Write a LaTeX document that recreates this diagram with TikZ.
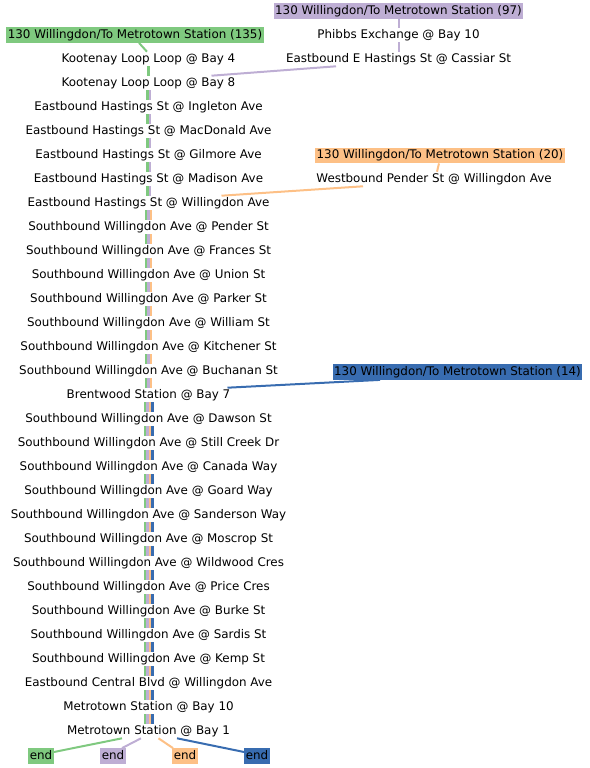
\documentclass[tikz,border=0pt]{standalone}
\usepackage{fontspec}
\setmainfont{DejaVu Sans}
\usepackage{tikz}
\usetikzlibrary{positioning}
\definecolor{rtgreen}{HTML}{7FC97F}
\definecolor{rtpurple}{HTML}{BEAED4}
\definecolor{rtorange}{HTML}{FDC086}
\definecolor{rtblue}{HTML}{386CB0}
\newcommand{\stopfont}{\fontsize{11.9}{14}\selectfont}

\begin{document}
\begin{tikzpicture}[x=1pt, y=-1pt,
    busstop/.style={inner xsep=1.5pt, inner ysep=1.2pt, text height=9pt,
        text depth=2.8pt, font=\stopfont},
    routelbl/.style={busstop, inner ysep=1.8pt, fill=#1},
    endlbl/.style={routelbl=#1},
    seg/.style={line width=2pt, draw=#1},
    bundle/.style={line width=2.5pt, draw=#1}
]
    \useasboundingbox (0,0) rectangle (589,768);

    % route headers
    \node[routelbl=rtgreen] (hdg) at (135,35) {130 Willingdon/To Metrotown Station (135)};
    \node[routelbl=rtpurple] (hdp) at (398.5,11) {130 Willingdon/To Metrotown Station (97)};
    \node[routelbl=rtorange] (hdo) at (440,155.5) {130 Willingdon/To Metrotown Station (20)};
    \node[routelbl=rtblue] (hdb) at (457.5,372) {130 Willingdon/To Metrotown Station (14)};

    % side branches
    \node[busstop] (phibbs) at (398.5,35) {Phibbs Exchange @ Bay 10};
    \node[busstop] (cassiar) at (398.5,59) {Eastbound E Hastings St @ Cassiar St};
    \node[busstop] (pender) at (434,179) {Westbound Pender St @ Willingdon Ave};

    % main line
    \node[busstop] (s1) at (148.5,59) {Kootenay Loop Loop @ Bay 4};
    \node[busstop] (s2) at (148.5,83) {Kootenay Loop Loop @ Bay 8};
    \node[busstop] (s3) at (148.5,107) {Eastbound Hastings St @ Ingleton Ave};
    \node[busstop] (s4) at (148.5,131) {Eastbound Hastings St @ MacDonald Ave};
    \node[busstop] (s5) at (148.5,155) {Eastbound Hastings St @ Gilmore Ave};
    \node[busstop] (s6) at (148.5,179) {Eastbound Hastings St @ Madison Ave};
    \node[busstop] (s7) at (148.5,203) {Eastbound Hastings St @ Willingdon Ave};
    \node[busstop] (s8) at (148.5,227) {Southbound Willingdon Ave @ Pender St};
    \node[busstop] (s9) at (148.5,251) {Southbound Willingdon Ave @ Frances St};
    \node[busstop] (s10) at (148.5,275) {Southbound Willingdon Ave @ Union St};
    \node[busstop] (s11) at (148.5,299) {Southbound Willingdon Ave @ Parker St};
    \node[busstop] (s12) at (148.5,323) {Southbound Willingdon Ave @ William St};
    \node[busstop] (s13) at (148.5,347) {Southbound Willingdon Ave @ Kitchener St};
    \node[busstop] (s14) at (148.5,371) {Southbound Willingdon Ave @ Buchanan St};
    \node[busstop] (s15) at (148.5,395) {Brentwood Station @ Bay 7};
    \node[busstop] (s16) at (148.5,419) {Southbound Willingdon Ave @ Dawson St};
    \node[busstop] (s17) at (148.5,443) {Southbound Willingdon Ave @ Still Creek Dr};
    \node[busstop] (s18) at (148.5,467) {Southbound Willingdon Ave @ Canada Way};
    \node[busstop] (s19) at (148.5,491) {Southbound Willingdon Ave @ Goard Way};
    \node[busstop] (s20) at (148.5,515) {Southbound Willingdon Ave @ Sanderson Way};
    \node[busstop] (s21) at (148.5,539) {Southbound Willingdon Ave @ Moscrop St};
    \node[busstop] (s22) at (148.5,563) {Southbound Willingdon Ave @ Wildwood Cres};
    \node[busstop] (s23) at (148.5,587) {Southbound Willingdon Ave @ Price Cres};
    \node[busstop] (s24) at (148.5,611) {Southbound Willingdon Ave @ Burke St};
    \node[busstop] (s25) at (148.5,635) {Southbound Willingdon Ave @ Sardis St};
    \node[busstop] (s26) at (148.5,659) {Southbound Willingdon Ave @ Kemp St};
    \node[busstop] (s27) at (148.5,683) {Eastbound Central Blvd @ Willingdon Ave};
    \node[busstop] (s28) at (148.5,707) {Metrotown Station @ Bay 10};
    \node[busstop] (s29) at (148.5,731) {Metrotown Station @ Bay 1};

    % terminals
    \node[endlbl=rtgreen] (eg) at (41,756) {end};
    \node[endlbl=rtpurple] (ep) at (113,756) {end};
    \node[endlbl=rtorange] (eo) at (185,756) {end};
    \node[endlbl=rtblue] (eb) at (257,756) {end};

    % feeders into the main line
    \draw[seg=rtgreen] ([xshift=4pt]hdg.south) -- ([xshift=-1.5pt]s1.north);
    \draw[seg=rtpurple] (hdp) -- (phibbs);
    \draw[seg=rtpurple] (phibbs) -- (cassiar);
    \draw[seg=rtpurple] ([xshift=-62.5pt]cassiar.south) -- ([xshift=63pt]s2.north);
    \draw[seg=rtorange] ([xshift=-1pt]hdo.south) -- ([xshift=3pt]pender.north);
    \draw[seg=rtorange] ([xshift=-71pt]pender.south) -- ([xshift=73pt]s7.north);
    \draw[seg=rtblue] ([xshift=-77.5pt]hdb.south) -- ([xshift=79pt]s15.north);

    % bundled segments
    \draw[bundle=rtgreen] (s1.south) -- (s2.north);
    \foreach \i [evaluate=\i as \j using int(\i+1)] in {2,...,6} {
        \draw[bundle=rtgreen] ([xshift=-1.25pt]s\i.south) -- ([xshift=-1.25pt]s\j.north);
        \draw[bundle=rtpurple] ([xshift=1.25pt]s\i.south) -- ([xshift=1.25pt]s\j.north);
    }
    \foreach \i [evaluate=\i as \j using int(\i+1)] in {7,...,14} {
        \draw[bundle=rtgreen] ([xshift=-2.5pt]s\i.south) -- ([xshift=-2.5pt]s\j.north);
        \draw[bundle=rtpurple] (s\i.south) -- (s\j.north);
        \draw[bundle=rtorange] ([xshift=2.5pt]s\i.south) -- ([xshift=2.5pt]s\j.north);
    }
    \foreach \i [evaluate=\i as \j using int(\i+1)] in {15,...,28} {
        \draw[bundle=rtgreen] ([xshift=-3.75pt]s\i.south) -- ([xshift=-3.75pt]s\j.north);
        \draw[bundle=rtpurple] ([xshift=-1.25pt]s\i.south) -- ([xshift=-1.25pt]s\j.north);
        \draw[bundle=rtorange] ([xshift=1.25pt]s\i.south) -- ([xshift=1.25pt]s\j.north);
        \draw[bundle=rtblue] ([xshift=3.75pt]s\i.south) -- ([xshift=3.75pt]s\j.north);
    }

    % to the terminals
    \draw[seg=rtgreen] ([xshift=-26.5pt]s29.south) -- ([yshift=4pt]eg.east);
    \draw[seg=rtpurple] ([xshift=-7.5pt]s29.south) -- ([xshift=9pt]ep.north);
    \draw[seg=rtorange] ([xshift=10pt]s29.south) -- ([xshift=-12pt]eo.north);
    \draw[seg=rtblue] ([xshift=28.5pt]s29.south) -- ([yshift=4pt]eb.west);
\end{tikzpicture}
\end{document}
